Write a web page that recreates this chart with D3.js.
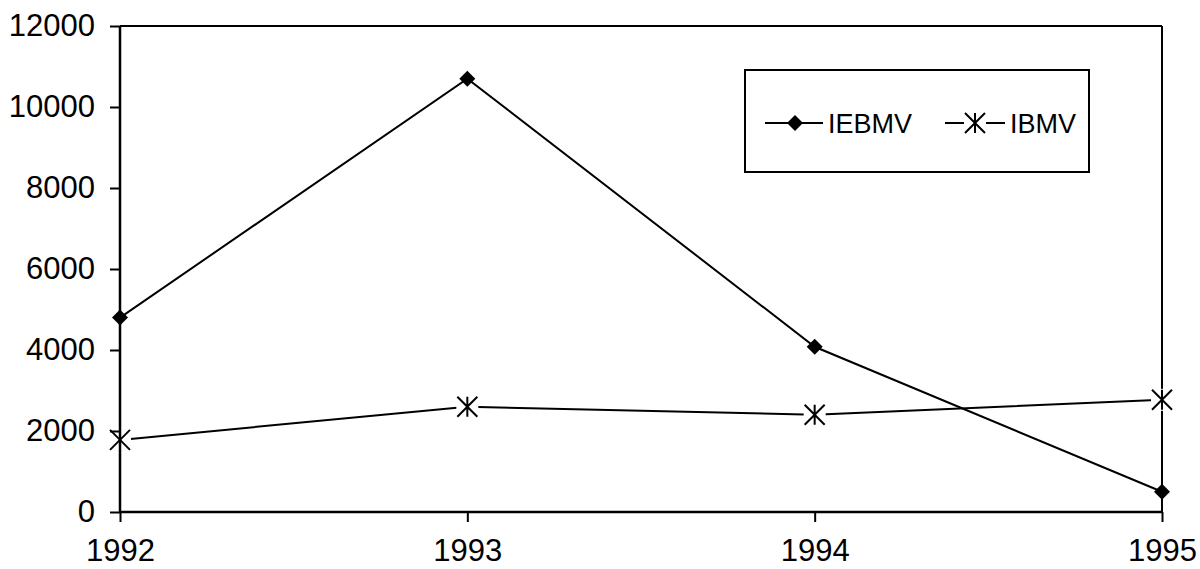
<!DOCTYPE html>
<html><head><meta charset="utf-8">
<script src="https://cdn.jsdelivr.net/npm/d3@7"></script>
<style>body{margin:0;background:#fff}svg{display:block}text{font-family:"Liberation Sans",Arial,sans-serif;fill:#000}</style>
</head><body><svg id="c" width="1200" height="569"></svg>
<script>
const years = [1992, 1993, 1994, 1995];
const iebmv = [4800, 10700, 4080, 500];
const ibmv = [1780, 2600, 2400, 2770];
const yTicks = [0, 2000, 4000, 6000, 8000, 10000, 12000];
const seriesNames = ["IEBMV", "IBMV"];

const svg = d3.select("#c");
const L = 120, R = 1162, T = 26, B = 512;
const x = d3.scalePoint().domain(years).range([L, R]);
const y = d3.scaleLinear().domain([0, 12000]).range([B, T]);

// frame (top and right)
svg.append("line").attr("x1", L).attr("x2", R).attr("y1", T).attr("y2", T).attr("stroke", "#000").attr("stroke-width", 2);
svg.append("line").attr("x1", R).attr("x2", R).attr("y1", T).attr("y2", B).attr("stroke", "#000").attr("stroke-width", 2);

const line = d3.line().x((d, i) => x(years[i])).y(d => y(d));
svg.append("path").datum(iebmv).attr("d", line).attr("fill", "none").attr("stroke", "#000").attr("stroke-width", 2);
svg.append("path").datum(ibmv).attr("d", line).attr("fill", "none").attr("stroke", "#000").attr("stroke-width", 2);

function diamond(g, cx, cy) {
  g.append("path").attr("d", `M${cx},${cy-8}L${cx+8},${cy}L${cx},${cy+8}L${cx-8},${cy}Z`).attr("fill", "#000");
}
function star(g, cx, cy) {
  g.append("rect").attr("x", cx-11).attr("y", cy-11).attr("width", 22).attr("height", 22).attr("fill", "#fff");
  const s = 10;
  g.append("path").attr("d", `M${cx-s},${cy-s}L${cx+s},${cy+s}M${cx-s},${cy+s}L${cx+s},${cy-s}M${cx},${cy-s}L${cx},${cy+s}`)
    .attr("stroke", "#000").attr("stroke-width", 2).attr("fill", "none");
}
iebmv.forEach((v, i) => diamond(svg, x(years[i]), y(v)));
ibmv.forEach((v, i) => star(svg, x(years[i]), y(v)));

// axes
const ya = svg.append("g").attr("transform", `translate(${L},0)`)
  .call(d3.axisLeft(y).tickValues(yTicks).tickSize(10).tickPadding(15).tickFormat(d3.format("d")));
const xa = svg.append("g").attr("transform", `translate(0,${B})`)
  .call(d3.axisBottom(x).tickValues(years).tickSize(10).tickPadding(17).tickFormat(d3.format("d")));
[ya, xa].forEach(a => {
  a.select(".domain").attr("stroke", "#000").attr("stroke-width", 2.5);
  a.selectAll(".tick line").attr("stroke", "#000").attr("stroke-width", 2);
  a.selectAll("text").style("font-size", "31px").attr("fill", "#000");
});
ya.select(".domain").attr("d", `M0,${T}V${B}`);
xa.select(".domain").attr("d", `M${L},0H${R}`);

// legend
const lg = svg.append("g");
lg.append("rect").attr("x", 745).attr("y", 70).attr("width", 344).attr("height", 102).attr("fill", "#fff").attr("stroke", "#000").attr("stroke-width", 2);
const ly = 123;
lg.append("line").attr("x1", 765).attr("x2", 823).attr("y1", ly).attr("y2", ly).attr("stroke", "#000").attr("stroke-width", 2);
diamond(lg, 795, ly);
lg.append("text").attr("x", 828).attr("y", ly).attr("dy", "0.36em").style("font-size", "27px").text(seriesNames[0]);
lg.append("line").attr("x1", 945).attr("x2", 1005).attr("y1", ly).attr("y2", ly).attr("stroke", "#000").attr("stroke-width", 2);
star(lg, 975, ly);
lg.append("text").attr("x", 1010).attr("y", ly).attr("dy", "0.36em").style("font-size", "27px").text(seriesNames[1]);
</script></body></html>
